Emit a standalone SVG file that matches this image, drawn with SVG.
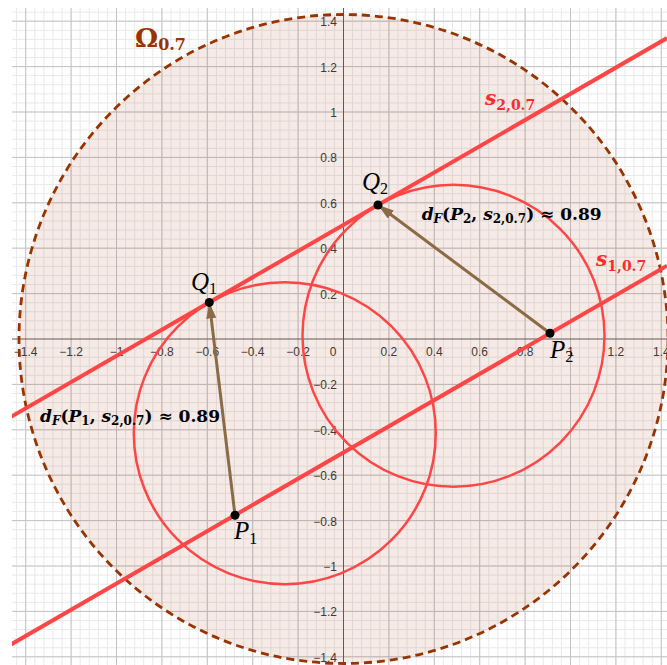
<svg xmlns="http://www.w3.org/2000/svg" width="667" height="665" viewBox="0 0 667 665">
<defs>
<style>
.minor{stroke:#e9e9eb;stroke-width:1;fill:none}
.major{stroke:#c4c2c6;stroke-width:1;fill:none}
.axis{stroke:#5c5c5c;stroke-width:1;fill:none}
.tl{font-family:"Liberation Sans",Arial,sans-serif;font-size:12px;fill:#3a3a3a}
.tx{text-anchor:middle}
.ty{text-anchor:end}
.sline{stroke:#ff4646;stroke-width:4;fill:none}
.circ{stroke:#ff4646;stroke-width:2.5;fill:none}
.vec{stroke:#8b6a46;stroke-width:3;fill:none}
.pt{fill:#000}
.pl{font-family:"Liberation Serif","Times New Roman",serif;font-style:italic;fill:#000}
.math{font-family:"DejaVu Serif",serif;font-weight:bold;fill:#000}
.red{fill:#ff2b2b}
</style>
<clipPath id="view"><rect x="12" y="8" width="655" height="657"/></clipPath>
<marker id="arr" viewBox="0 0 16 10" refX="16" refY="5" markerWidth="16" markerHeight="10" markerUnits="userSpaceOnUse" orient="auto">
<path d="M0 0L16 5L0 10z" fill="#8b6a46"/>
</marker>
</defs>
<rect width="667" height="665" fill="#fff"/>
<g id="grid" clip-path="url(#view)">
<path class="minor" d="M16.62 8V665M25.7 8V665M34.78 8V665M43.86 8V665M52.94 8V665M62.02 8V665M71.1 8V665M80.18 8V665M89.26 8V665M98.34 8V665M107.42 8V665M116.5 8V665M125.58 8V665M134.66 8V665M143.74 8V665M152.82 8V665M161.9 8V665M170.98 8V665M180.06 8V665M189.14 8V665M198.22 8V665M207.3 8V665M216.38 8V665M225.46 8V665M234.54 8V665M243.62 8V665M252.7 8V665M261.78 8V665M270.86 8V665M279.94 8V665M289.02 8V665M298.1 8V665M307.18 8V665M316.26 8V665M325.34 8V665M334.42 8V665M352.58 8V665M361.66 8V665M370.74 8V665M379.82 8V665M388.9 8V665M397.98 8V665M407.06 8V665M416.14 8V665M425.22 8V665M434.3 8V665M443.38 8V665M452.46 8V665M461.54 8V665M470.62 8V665M479.7 8V665M488.78 8V665M497.86 8V665M506.94 8V665M516.02 8V665M525.1 8V665M534.18 8V665M543.26 8V665M552.34 8V665M561.42 8V665M570.5 8V665M579.58 8V665M588.66 8V665M597.74 8V665M606.82 8V665M615.9 8V665M624.98 8V665M634.06 8V665M643.14 8V665M652.22 8V665M661.3 8V665
M12 12.12H667M12 21.2H667M12 30.28H667M12 39.36H667M12 48.44H667M12 57.52H667M12 66.6H667M12 75.68H667M12 84.76H667M12 93.84H667M12 102.92H667M12 112H667M12 121.08H667M12 130.16H667M12 139.24H667M12 148.32H667M12 157.4H667M12 166.48H667M12 175.56H667M12 184.64H667M12 193.72H667M12 202.8H667M12 211.88H667M12 220.96H667M12 230.04H667M12 239.12H667M12 248.2H667M12 257.28H667M12 266.36H667M12 275.44H667M12 284.52H667M12 293.6H667M12 302.68H667M12 311.76H667M12 320.84H667M12 329.92H667M12 348.08H667M12 357.16H667M12 366.24H667M12 375.32H667M12 384.4H667M12 393.48H667M12 402.56H667M12 411.64H667M12 420.72H667M12 429.8H667M12 438.88H667M12 447.96H667M12 457.04H667M12 466.12H667M12 475.2H667M12 484.28H667M12 493.36H667M12 502.44H667M12 511.52H667M12 520.6H667M12 529.68H667M12 538.76H667M12 547.84H667M12 556.92H667M12 566H667M12 575.08H667M12 584.16H667M12 593.24H667M12 602.32H667M12 611.4H667M12 620.48H667M12 629.56H667M12 638.64H667M12 647.72H667M12 656.8H667"/>
<path class="major" d="M25.7 8V665M71.1 8V665M116.5 8V665M161.9 8V665M207.3 8V665M252.7 8V665M298.1 8V665M388.9 8V665M434.3 8V665M479.7 8V665M525.1 8V665M570.5 8V665M615.9 8V665M661.3 8V665M12 21.2H667M12 66.6H667M12 112H667M12 157.4H667M12 202.8H667M12 248.2H667M12 293.6H667M12 384.4H667M12 429.8H667M12 475.2H667M12 520.6H667M12 566H667M12 611.4H667M12 656.8H667"/>
</g>
<g id="axes" clip-path="url(#view)">
<path class="axis" d="M12 339H667M343.5 8V665"/>
<g class="tl tx">
<text x="25.7" y="356">−1.4</text>
<text x="71.1" y="356">−1.2</text>
<text x="116.5" y="356">−1</text>
<text x="161.9" y="356">−0.8</text>
<text x="207.3" y="356">−0.6</text>
<text x="252.7" y="356">−0.4</text>
<text x="298.1" y="356">−0.2</text>
<text x="333" y="356">0</text>
<text x="388.9" y="356">0.2</text>
<text x="434.3" y="356">0.4</text>
<text x="479.7" y="356">0.6</text>
<text x="525.1" y="356">0.8</text>
<text x="570.5" y="356">1</text>
<text x="615.9" y="356">1.2</text>
<text x="661.3" y="356">1.4</text>
</g>
<g class="tl ty">
<text x="337" y="26.2">1.4</text>
<text x="337" y="71.6">1.2</text>
<text x="337" y="117">1</text>
<text x="337" y="162.4">0.8</text>
<text x="337" y="207.8">0.6</text>
<text x="337" y="253.2">0.4</text>
<text x="337" y="298.6">0.2</text>
<text x="337" y="389.4">−0.2</text>
<text x="337" y="434.8">−0.4</text>
<text x="337" y="480.2">−0.6</text>
<text x="337" y="525.6">−0.8</text>
<text x="337" y="571">−1</text>
<text x="337" y="616.4">−1.2</text>
<text x="337" y="661.8">−1.4</text>
</g>
</g>
<g id="omega" clip-path="url(#view)">
<circle cx="343.5" cy="339" r="324.5" fill="#993300" fill-opacity="0.1" stroke="#993300" stroke-width="2.8" stroke-dasharray="8 5"/>
<text x="135" y="47" font-family="DejaVu Serif,serif" font-weight="bold" font-size="26" fill="#993300">Ω<tspan font-size="16" dy="3">0.7</tspan></text>
</g>
<g id="lines" clip-path="url(#view)">
<line id="s2" class="sline" x1="0" y1="423.2" x2="667" y2="38.1"/>
<line id="s1" class="sline" x1="0" y1="650.8" x2="667" y2="265.7"/>
<circle id="c1" class="circ" cx="284.8" cy="433.2" r="151"/>
<circle id="c2" class="circ" cx="453.5" cy="335.8" r="151"/>
<text class="math red" x="485" y="105" font-size="20"><tspan font-style="italic">s</tspan><tspan font-size="14" dy="5">2,0.7</tspan></text>
<text class="math red" x="596" y="266" font-size="20"><tspan font-style="italic">s</tspan><tspan font-size="14" dy="5">1,0.7</tspan></text>
</g>
<g id="connectors">
<line id="v1" class="vec" x1="235" y1="515.2" x2="209.3" y2="302.4" marker-end="url(#arr)"/>
<line id="v2" class="vec" x1="550" y1="333.3" x2="378" y2="205" marker-end="url(#arr)"/>
</g>
<g id="P1"><circle class="pt" cx="235" cy="515.2" r="4.5"/><text class="pl" x="234" y="539" font-size="25">P<tspan font-size="16" font-style="normal" dy="5">1</tspan></text></g>
<g id="Q1"><circle class="pt" cx="209.3" cy="302.4" r="4.5"/><text class="pl" x="191" y="290" font-size="25">Q<tspan font-size="16" font-style="normal" dy="4">1</tspan></text></g>
<g id="P2"><circle class="pt" cx="550" cy="333.3" r="4.5"/><text class="pl" x="550" y="358" font-size="25">P<tspan font-size="16" font-style="normal" dy="4">2</tspan></text></g>
<g id="Q2"><circle class="pt" cx="378" cy="205" r="4.5"/><text class="pl" x="362" y="190" font-size="25">Q<tspan font-size="16" font-style="normal" dy="4">2</tspan></text></g>
<g id="label1">
<text class="math" x="40" y="421.7" font-size="17"><tspan font-style="italic">d</tspan><tspan font-style="italic" font-size="12" dy="3">F</tspan><tspan dy="-3">(</tspan><tspan font-style="italic">P</tspan><tspan font-size="12" dy="3">1</tspan><tspan dy="-3">, </tspan><tspan font-style="italic">s</tspan><tspan font-size="12" dy="3">2,0.7</tspan><tspan dy="-3">) ≈ 0.89</tspan></text>
</g>
<g id="label2">
<text class="math" x="421.7" y="220" font-size="17"><tspan font-style="italic">d</tspan><tspan font-style="italic" font-size="12" dy="3">F</tspan><tspan dy="-3">(</tspan><tspan font-style="italic">P</tspan><tspan font-size="12" dy="3">2</tspan><tspan dy="-3">, </tspan><tspan font-style="italic">s</tspan><tspan font-size="12" dy="3">2,0.7</tspan><tspan dy="-3">) ≈ 0.89</tspan></text>
</g>
</svg>
